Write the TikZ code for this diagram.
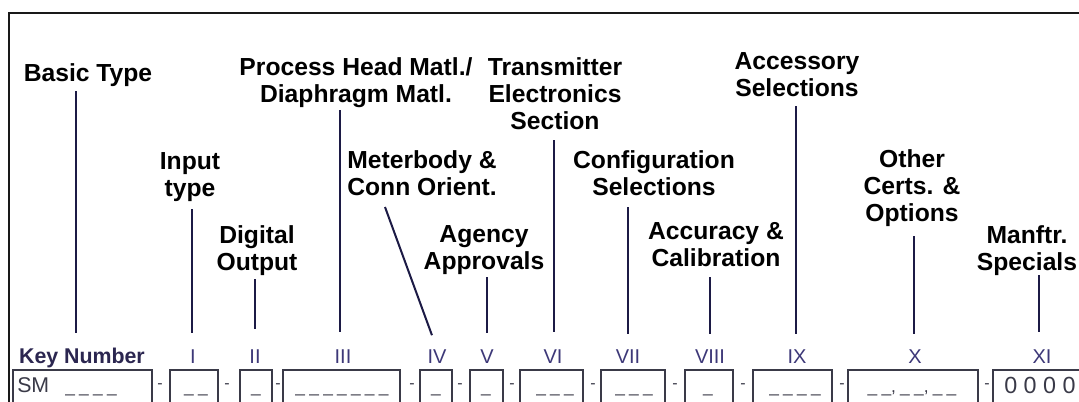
\documentclass[tikz,border=0pt]{standalone}
\usepackage{fontspec}
\setmainfont{Liberation Sans}
\begin{document}
\begin{tikzpicture}[x=0.75pt,y=-0.75pt,
  lbl/.style={anchor=north,inner sep=0pt,align=center,font=\fontsize{18.5}{20.25}\selectfont\bfseries,text=black},
  num/.style={anchor=base,inner sep=0pt,font=\fontsize{15}{17}\selectfont,text=numc},
  conn/.style={draw=linec,line width=1.5pt},
  keybox/.style={draw=boxc,line width=1.2pt},
  blanks/.style={anchor=base,inner sep=0pt,font=\fontsize{13}{15}\selectfont,text=boxc},
  sep/.style={anchor=base,inner sep=0pt,font=\fontsize{12}{13}\selectfont,text=boxc},
  frame/.style={draw=black!90,line width=1.6pt}]
\definecolor{linec}{HTML}{1C1A45}
\definecolor{numc}{HTML}{3D3878}
\definecolor{boxc}{HTML}{3A3A48}
\definecolor{keyc}{HTML}{2B2650}
\newcommand{\bl}{\_\hspace{3.2pt}}
\useasboundingbox (0,0) rectangle (1079,401);
\clip (0,0) rectangle (1079,401);
\fill[white] (0,0) rectangle (1079,401);
% frame
\draw[frame] (1090,13) -- (9,13) -- (9,410);
% labels
\node[lbl] (lbt) at (88,63) {Basic Type};
\node[lbl] (lph) at (356,57) {Process Head Matl./\\Diaphragm Matl.};
\node[lbl] (ltr) at (555,57) {Transmitter\\Electronics\\Section};
\node[lbl] (lac) at (797,52) {Accessory\\Selections};
\node[lbl] (lin) at (190,152) {Input\\type};
\node[lbl] (lmb) at (422,150) {Meterbody \&\\Conn Orient.};
\node[lbl] (lcf) at (654,150) {Configuration\\Selections};
\node[lbl] (lot) at (912,149) {Other\\Certs. \&\\Options};
\node[lbl] (ldo) at (257,225) {Digital\\Output};
\node[lbl] (lag) at (484,225) {Agency\\Approvals};
\node[lbl] (lcb) at (716,222) {Accuracy \&\\Calibration};
\node[lbl] (lmf) at (1027,225) {Manftr.\\Specials};
% numerals
\node[anchor=base,inner sep=0pt,font=\fontsize{16}{18}\selectfont\bfseries,text=keyc] (nk) at (82,363) {Key Number};
\node[num] (n1) at (193,363) {I};
\node[num] (n2) at (255,363) {II};
\node[num] (n3) at (343,363) {III};
\node[num] (n4) at (437,363) {IV};
\node[num] (n5) at (487,363) {V};
\node[num] (n6) at (553,363) {VI};
\node[num] (n7) at (628,363) {VII};
\node[num] (n8) at (710,363) {VIII};
\node[num] (n9) at (797,363) {IX};
\node[num] (n10) at (915,363) {X};
\node[num] (n11) at (1042,363) {XI};
% connector top ends
\coordinate (t0) at (76,91);
\coordinate (t1) at (192,209);
\coordinate (t2) at (255,279);
\coordinate (t3) at (340,110);
\coordinate (t4) at (385,207);
\coordinate (t5) at (487,277);
\coordinate (t6) at (554,140);
\coordinate (t7) at (628,207);
\coordinate (t8) at (710,277);
\coordinate (t9) at (796,106);
\coordinate (t10) at (914,236);
\coordinate (t11) at (1039,275);
\draw[conn,shorten >=11pt] (t0) -- (t0 |- nk.north);
\draw[conn,shorten >=12pt] (t1) -- (t1 |- n1.north);
\draw[conn,shorten >=15pt] (t2) -- (t2 |- n2.north);
\draw[conn,shorten >=13pt] (t3) -- (t3 |- n3.north);
\draw[conn,shorten >=11pt] (t4) -- (n4.north);
\draw[conn,shorten >=12pt] (t5) -- (t5 |- n5.north);
\draw[conn,shorten >=13pt] (t6) -- (t6 |- n6.north);
\draw[conn,shorten >=11pt] (t7) -- (t7 |- n7.north);
\draw[conn,shorten >=11pt] (t8) -- (t8 |- n8.north);
\draw[conn,shorten >=11pt] (t9) -- (t9 |- n9.north);
\draw[conn,shorten >=11pt] (t10) -- (t10 |- n10.north);
\draw[conn,shorten >=13pt] (t11) -- (t11 |- n11.north);
% key boxes
\draw[keybox] (13,410) -- (13,370) -- (152,370) -- (152,410);
\draw[keybox] (170,410) -- (170,370) -- (218,370) -- (218,410);
\draw[keybox] (240,410) -- (240,370) -- (272,370) -- (272,410);
\draw[keybox] (283,410) -- (283,370) -- (400,370) -- (400,410);
\draw[keybox] (420,410) -- (420,370) -- (452,370) -- (452,410);
\draw[keybox] (470,410) -- (470,370) -- (503,370) -- (503,410);
\draw[keybox] (520,410) -- (520,370) -- (583,370) -- (583,410);
\draw[keybox] (601,410) -- (601,370) -- (665,370) -- (665,410);
\draw[keybox] (685,410) -- (685,370) -- (733,370) -- (733,410);
\draw[keybox] (753,410) -- (753,370) -- (832,370) -- (832,410);
\draw[keybox] (848,410) -- (848,370) -- (978,370) -- (978,410);
\draw[keybox] (993,410) -- (993,370) -- (1100,370);
% separators
\foreach \x/\n in {160/a,227/b,278/c,412/d,460/e,512/f,593/g,675/h,743/i,842/j,987/k}
  \node[sep] (s\n) at (\x,388) {-};
% box contents
\node[anchor=base west,inner sep=0pt,font=\fontsize{16}{18}\selectfont,text=boxc] (bsm) at (17,392) {SM};
\node[blanks] (b0) at (91,392) {\bl\bl\bl\_};
\node[blanks] (b1) at (196,392) {\bl\_};
\node[blanks] (b2) at (256,392) {\_};
\node[blanks] (b3) at (342,392) {\bl\bl\bl\bl\bl\bl\_};
\node[blanks] (b4) at (436,392) {\_};
\node[blanks] (b5) at (486,392) {\_};
\node[blanks] (b6) at (555,392) {\bl\bl\_};
\node[blanks] (b7) at (634,392) {\bl\bl\_};
\node[blanks] (b8) at (708,392) {\_};
\node[blanks] (b9) at (795,392) {\bl\bl\bl\_};
\node[blanks] (b10) at (912,392) {\bl\_,\hspace{3.2pt}\bl\_,\hspace{3.2pt}\bl\_};
\node[anchor=base west,inner sep=0pt,font=\fontsize{17.5}{19}\selectfont,text=boxc] (b11) at (1004,393) {0 0 0 0};
\end{tikzpicture}
\end{document}
